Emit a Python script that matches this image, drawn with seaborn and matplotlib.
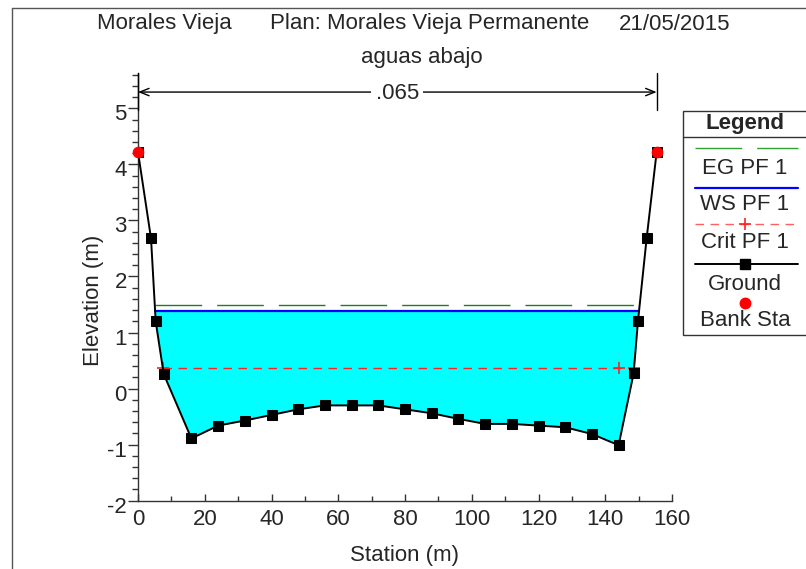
import numpy as np
import matplotlib
matplotlib.use("Agg")
import matplotlib.pyplot as plt
from matplotlib.lines import Line2D
from matplotlib.patches import Rectangle
from matplotlib.ticker import MultipleLocator
from matplotlib.transforms import ScaledTranslation
import seaborn as sns

# Cross-section ground profile
station = [0.0, 3.9, 5.3, 7.7, 16, 24, 32, 40, 48, 56, 64, 72, 80, 88, 96,
           104, 112, 120, 128, 136, 144, 148.5, 149.8, 152.4, 155.4]
elevation = [4.22, 2.68, 1.20, 0.26, -0.89, -0.66, -0.57, -0.47, -0.37, -0.30,
             -0.30, -0.30, -0.37, -0.44, -0.54, -0.63, -0.63, -0.66, -0.69,
             -0.81, -1.01, 0.27, 1.20, 2.68, 4.22]

# Bank stations
bank_station = [0.0, 155.4]
bank_elev = [4.22, 4.22]

# Profile PF 1 results
ws_elev = 1.39
eg_elev = 1.49
crit_elev = 0.37
crit_extra_station = 144.0

manning_n = ".065"
title_river = "Morales Vieja"
title_plan = "Plan: Morales Vieja Permanente"
title_date = "21/05/2015"
subtitle = "aguas abajo"

legend_labels = ["EG PF 1", "WS PF 1", "Crit PF 1", "Ground", "Bank Sta"]

W, H = 806, 569
FS = 16
FS_LEG = 16

sns.set_theme(style="white")
plt.rcParams["font.family"] = ["Liberation Sans", "DejaVu Sans"]
plt.rcParams["lines.scale_dashes"] = False

fig = plt.figure(figsize=(W / 100, H / 100), dpi=100)
fig.patch.set_facecolor("white")


def fx(px):
    return px / W


def fy(py):
    return 1 - py / H


ax = fig.add_axes([fx(138), fy(500.7), (672 - 138) / W, (500.7 - 73) / H])
ax.set_facecolor("white")

st = np.asarray(station, dtype=float)
el = np.asarray(elevation, dtype=float)


def crossings(level):
    pts = []
    for i in range(len(st) - 1):
        a, b = el[i] - level, el[i + 1] - level
        if a * b < 0:
            t = a / (a - b)
            pts.append(st[i] + t * (st[i + 1] - st[i]))
    return pts[0], pts[-1]


# water area below the water surface
ax.fill_between(st, el, ws_elev, where=el <= ws_elev, interpolate=True,
                color="#00FFFF", lw=0, zorder=1)

ws_l, ws_r = crossings(ws_elev)
eg_l, eg_r = crossings(eg_elev)
cr_l, cr_r = crossings(crit_elev)

ax.plot([eg_l, eg_r], [eg_elev, eg_elev], color="#1f7f1f", lw=1.0,
        dashes=(33.6, 10.8), zorder=2)
ax.plot([ws_l, ws_r], [ws_elev, ws_elev], color="#0000FF", lw=1.6, zorder=3)
ax.plot([cr_l, cr_r], [crit_elev, crit_elev], color="#FF2020", lw=1.0,
        dashes=(6.1, 4.7), zorder=3)
ax.plot([cr_l, crit_extra_station, cr_r], [crit_elev] * 3, ls="none",
        marker="+", color="#FF2020", markersize=8, mew=1.2, zorder=4)

sns.lineplot(x=st, y=el, sort=False, estimator=None, color="black", lw=1.4,
             marker="s", markersize=6.5, markeredgecolor="black",
             markerfacecolor="black", ax=ax, zorder=5)
sns.scatterplot(x=bank_station, y=bank_elev, color="#FF0000", s=60,
                edgecolor="#FF0000", ax=ax, zorder=6, clip_on=False)

# Manning's n annotation over the section
y_arrow = 5.29
ax.annotate("", xy=(bank_station[0], y_arrow), xytext=(bank_station[1], y_arrow),
            arrowprops=dict(arrowstyle="<->,head_length=0.55,head_width=0.22",
                            lw=1.0, color="black", shrinkA=0, shrinkB=0),
            zorder=6)
for s in bank_station:
    ax.plot([s, s], [4.97, 5.63], color="black", lw=1.0, clip_on=False, zorder=6)
ax.text(np.mean(bank_station), y_arrow - 0.03, manning_n, ha="center",
        va="center", fontsize=FS, bbox=dict(fc="white", ec="none", pad=3),
        zorder=7)

ax.set_xlim(0, 160)
ax.set_ylim(-2, 5.63)
ax.xaxis.set_major_locator(MultipleLocator(20))
ax.xaxis.set_minor_locator(MultipleLocator(10))
ax.yaxis.set_minor_locator(MultipleLocator(0.2))
ax.set_yticks(np.arange(-2, 6, 1))
ax.set_yticklabels([str(v) for v in range(-2, 6)])

for side in ["top", "right"]:
    ax.spines[side].set_visible(False)
for side in ["left", "bottom"]:
    ax.spines[side].set_color("#333333")
    ax.spines[side].set_linewidth(1.0)

ax.tick_params(axis="y", which="major", direction="out", length=7, width=1,
               color="#333333", pad=1, labelsize=FS, left=True)
ax.tick_params(axis="y", which="minor", direction="out", length=4.5, width=1,
               color="#333333", left=True)
ax.tick_params(axis="x", which="major", direction="in", length=5, width=1,
               color="#333333", pad=6, labelsize=FS, bottom=True)
ax.tick_params(axis="x", which="minor", direction="in", length=3.5, width=1,
               color="#333333", bottom=True)
ax.set_xlabel("")
ax.set_ylabel("")

# y tick labels sit a little below their ticks
shift = ScaledTranslation(0, -4 / 100, fig.dpi_scale_trans)
for lab in ax.get_yticklabels():
    lab.set_transform(lab.get_transform() + shift)

fig.text(fx(405), fy(556), "Station (m)", ha="center", va="center", fontsize=FS)
fig.text(fx(93), fy(300), "Elevation (m)", ha="center", va="center",
         rotation=90, fontsize=FS)

# Titles
fig.text(fx(97), fy(24), title_river, ha="left", va="center", fontsize=FS)
fig.text(fx(270), fy(24), title_plan, ha="left", va="center", fontsize=FS)
fig.text(fx(730), fy(24), title_date, ha="right", va="center", fontsize=FS)
fig.text(fx(422), fy(57), subtitle, ha="center", va="center", fontsize=FS)

# Window frame
frame_kw = dict(color="#555555", lw=1.0, transform=fig.transFigure)
fig.add_artist(Line2D([fx(12), fx(12)], [fy(7.5), 0], **frame_kw))
fig.add_artist(Line2D([fx(12), 1], [fy(7.5), fy(7.5)], **frame_kw))

# Legend panel
fig.add_artist(Rectangle((fx(683), fy(335)), (W + 5 - 683) / W, (335 - 111) / H,
                         transform=fig.transFigure, fc="white", ec="#333333",
                         lw=1.0, clip_on=False))
fig.add_artist(Line2D([fx(683), 1], [fy(137.3), fy(137.3)], color="#333333",
                      lw=1.0, transform=fig.transFigure))
fig.text(fx(745), fy(124), "Legend", ha="center", va="center", fontsize=FS_LEG,
         fontweight="bold")

lx0, lx1, lxc = fx(695), fx(798), fx(745)
tf = fig.transFigure
fig.add_artist(Line2D([lx0, lx1], [fy(148.3)] * 2, color="#33a033", lw=1.0,
                      dashes=(33.6, 10.8), transform=tf))
fig.add_artist(Line2D([lx0, lx1], [fy(187.7)] * 2, color="#0000FF", lw=1.6,
                      transform=tf))
fig.add_artist(Line2D([lx0, lx1], [fy(224)] * 2, color="#FF6060", lw=1.0,
                      dashes=(6.1, 4.7), transform=tf))
fig.add_artist(Line2D([lxc], [fy(224)], ls="none", marker="+", color="#FF2020",
                      markersize=8, mew=1.2, transform=tf))
fig.add_artist(Line2D([lx0, lx1], [fy(264)] * 2, color="black", lw=1.4,
                      transform=tf))
fig.add_artist(Line2D([lxc], [fy(264)], ls="none", marker="s", color="black",
                      markersize=6.5, transform=tf))
fig.add_artist(Line2D([lxc], [fy(303.3)], ls="none", marker="o", color="#FF0000",
                      markersize=7.5, transform=tf))

for lab, yy in zip(legend_labels, [168, 205, 243, 284, 321]):
    fig.text(lxc, fy(yy), lab, ha="center", va="center", fontsize=FS_LEG)

fig.savefig("out.png", dpi=100, facecolor="white")
